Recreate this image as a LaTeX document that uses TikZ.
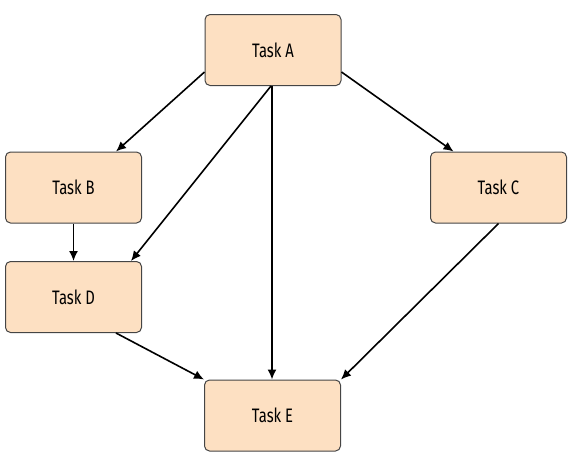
\documentclass[tikz,border=0pt]{standalone}
\usepackage{fontspec}
\setmainfont{Fira Sans}
\newfontfamily\taskfont[FakeStretch=0.76]{Fira Sans}
\usetikzlibrary{arrows.meta}
\definecolor{taskfill}{HTML}{FDE0C2}
\definecolor{taskline}{HTML}{454545}
\begin{document}
\begin{tikzpicture}[x=1pt,y=-1pt,
  taskbox/.style={draw=taskline,line width=1pt,fill=taskfill,rounded corners=5pt,
    minimum width=136pt,minimum height=71pt,inner sep=0pt,
    font=\taskfont\fontsize{19.5}{22}\selectfont},
  link/.style={line width=1.6pt,-{Latex[length=10pt,width=9pt]}}]
\useasboundingbox (0,0) rectangle (573,461);
\node[taskbox] (A) at (273,50) {Task A};
\node[taskbox] (B) at (73.5,187.5) {Task B};
\node[taskbox] (C) at (498.5,187.5) {Task C};
\node[taskbox] (D) at (73.5,297) {Task D};
\node[taskbox] (E) at (272.5,415.5) {Task E};
\draw[link] ([yshift=14pt]A.south west) -- ([xshift=-26pt]B.north east);
\draw[link] ([yshift=14pt]A.south east) -- ([xshift=-45pt]C.north);
\draw[link] ([xshift=-2pt]A.south) -- ([xshift=-11pt]D.north east);
\draw[link] ([xshift=-1pt]A.south) -- ([xshift=-0.5pt]E.north);
\draw[link] (B.south) -- (D.north);
\draw[link] ([xshift=-26pt]D.south east) -- (E.north west);
\draw[link] (C.south) -- (E.north east);
\end{tikzpicture}
\end{document}
